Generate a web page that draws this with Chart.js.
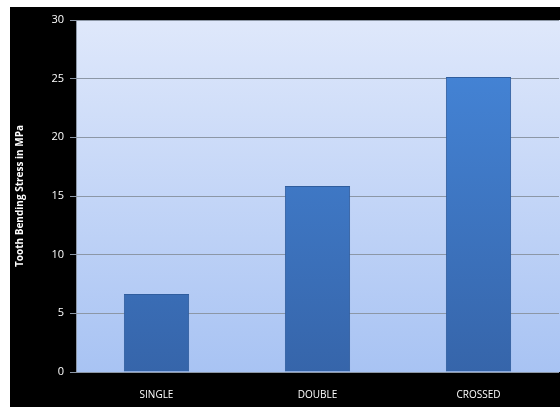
<!DOCTYPE html>
<html>
<head>
<meta charset="utf-8">
<script src="https://cdn.jsdelivr.net/npm/chart.js@4"></script>
<style>
  html, body { margin: 0; padding: 0; background: #fff; }
  #wrap { width: 560px; height: 407px; }
</style>
</head>
<body>
<div id="wrap"><canvas id="myChart" width="560" height="407"></canvas></div>
<script>
const categories = ['SINGLE', 'DOUBLE', 'CROSSED'];
const stress = [6.65, 15.85, 25.15];
const yTicks = [0, 5, 10, 15, 20, 25, 30];

// black frame + gradient plot background
const bgPlugin = {
  id: 'bg',
  beforeDraw(chart) {
    const c = chart.ctx;
    const a = chart.chartArea;
    c.save();
    c.fillStyle = '#fff';
    c.fillRect(0, 0, chart.width, chart.height);
    c.fillStyle = '#000';
    c.fillRect(10, 7, chart.width - 10, chart.height - 7);
    const g = c.createLinearGradient(0, a.top, 0, a.bottom);
    g.addColorStop(0, '#dfe8fb');
    g.addColorStop(1, '#a8c3f3');
    c.fillStyle = g;
    c.fillRect(a.left, a.top, a.right - a.left + 1, a.bottom - a.top);
    c.restore();
  }
};

function barFill(context) {
  const chart = context.chart;
  const a = chart.chartArea;
  if (!a) return '#3f7fd6';
  const g = chart.ctx.createLinearGradient(0, a.top, 0, a.bottom);
  g.addColorStop(0, '#4688dc');
  g.addColorStop(1, '#3665aa');
  return g;
}

const ctx = document.getElementById('myChart');
new Chart(ctx, {
  type: 'bar',
  data: {
    labels: categories,
    datasets: [{
      data: stress,
      backgroundColor: barFill,
      borderColor: '#2f5d9e',
      borderWidth: 1,
      categoryPercentage: 1,
      barPercentage: 0.405
    }]
  },
  plugins: [bgPlugin],
  options: {
    responsive: false,
    animation: false,
    layout: { padding: { left: 10, top: 20, right: 1, bottom: 0 } },
    plugins: { legend: { display: false }, tooltip: { enabled: false } },
    scales: {
      x: {
        grid: { display: false },
        border: { display: false },
        ticks: { color: '#fff', font: { family: 'Open Sans', size: 10 }, padding: 9 },
        afterFit(s) { s.height = 35; }
      },
      y: {
        min: 0,
        max: 30,
        afterBuildTicks(s) { s.ticks = yTicks.map(v => ({ value: v })); },
        grid: { color: '#8c97a6', lineWidth: 1, tickLength: 6 },
        border: { color: '#8c97a6' },
        ticks: { color: '#fff', font: { family: 'Open Sans', size: 11 }, padding: 6 },
        title: {
          display: true,
          text: 'Tooth Bending Stress in MPa',
          color: '#fff',
          font: { family: 'Open Sans', size: 10, weight: 'bold' },
          padding: { top: 4, bottom: 0 }
        },
        afterFit(s) { s.width = 66; }
      }
    }
  }
});
</script>
</body>
</html>
